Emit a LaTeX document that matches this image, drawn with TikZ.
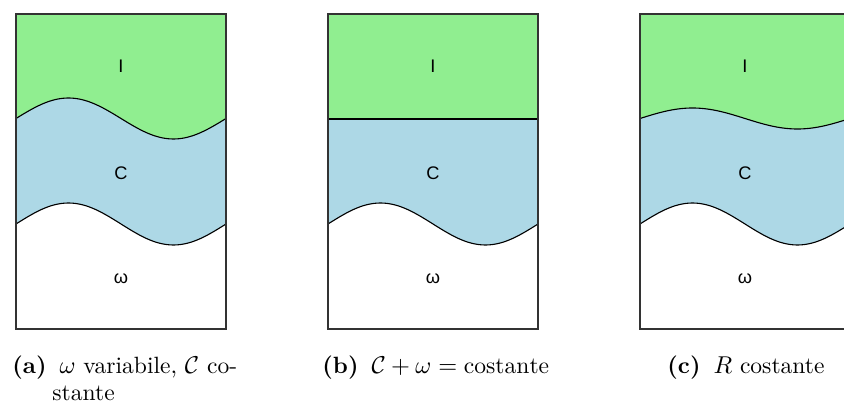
\documentclass[tikz,border=0pt]{standalone}
\usepackage{fontspec}
\newfontfamily\lblfont{Liberation Sans}
\definecolor{gfill}{HTML}{90EE90}
\definecolor{bfill}{HTML}{ADD8E6}
\tikzset{
  wavepath/.style={insert path={sin ++(52.5,-#1) cos ++(52.5,#1) sin ++(52.5,#1) cos ++(52.5,-#1)}},
  wavecurve/.style={draw=black, line width=0.5pt},
  boxframe/.style={draw=black!80, line width=0.5pt},
  lbltxt/.style={font=\lblfont\fontsize{8.2}{10}\selectfont, inner sep=0, anchor=base},
  captxt/.style={font=\fontsize{10.6}{13}\selectfont, inner sep=0, anchor=base west},
}
\begin{document}
\begin{tikzpicture}[x=0.45pt, y=-0.45pt]
\useasboundingbox (0,0) rectangle (844,403);
\clip (0,0) rectangle (844,403);
% ---------- panel (a)
\fill[bfill] (16,14) -- (16,224) [wavepath=21] -- (226,14) -- cycle;
\fill[gfill] (16,14) -- (16,118.5) [wavepath=20.5] -- (226,14) -- cycle;
\draw[wavecurve] (16,118.5) [wavepath=20.5];
\draw[wavecurve] (16,224) [wavepath=21];
\draw[boxframe] (16,14) rectangle (226,329);
\node[lbltxt] (aI) at (121,73) {I};
\node[lbltxt] (aC) at (121,179) {C};
\node[lbltxt] (aW) at (121,283) {ω};
% ---------- panel (b)
\fill[bfill] (328,14) -- (328,224) [wavepath=21] -- (538,14) -- cycle;
\fill[gfill] (328,14) rectangle (538,119);
\draw[wavecurve] (328,119) -- (538,119);
\draw[wavecurve] (328,224) [wavepath=21];
\draw[boxframe] (328,14) rectangle (538,329);
\node[lbltxt] (bI) at (433,73) {I};
\node[lbltxt] (bC) at (433,179) {C};
\node[lbltxt] (bW) at (433,283) {ω};
% ---------- panel (c)
\fill[bfill] (640,14) -- (640,224) [wavepath=21] -- (850,14) -- cycle;
\fill[gfill] (640,14) -- (640,118.5) [wavepath=10.5] -- (850,14) -- cycle;
\draw[wavecurve] (640,118.5) [wavepath=10.5];
\draw[wavecurve] (640,224) [wavepath=21];
\draw[boxframe] (640,14) rectangle (850,329);
\node[lbltxt] (cI) at (745,73) {I};
\node[lbltxt] (cC) at (745,179) {C};
\node[lbltxt] (cW) at (745,283) {ω};
% ---------- captions
\node[captxt] (capa1) at (12,373) {\textbf{(a)}\hspace{0.55em}$\omega$ variabile, $\mathcal{C}$ co-};
\node[captxt] (capa2) at (52,400) {stante};
\node[captxt] (capb) at (322,373) {\textbf{(b)}\hspace{0.55em}$\mathcal{C}+\omega=\mathrm{costante}$};
\node[captxt] (capc) at (667,373) {\textbf{(c)}\hspace{0.55em}$R$ costante};
\end{tikzpicture}
\end{document}
